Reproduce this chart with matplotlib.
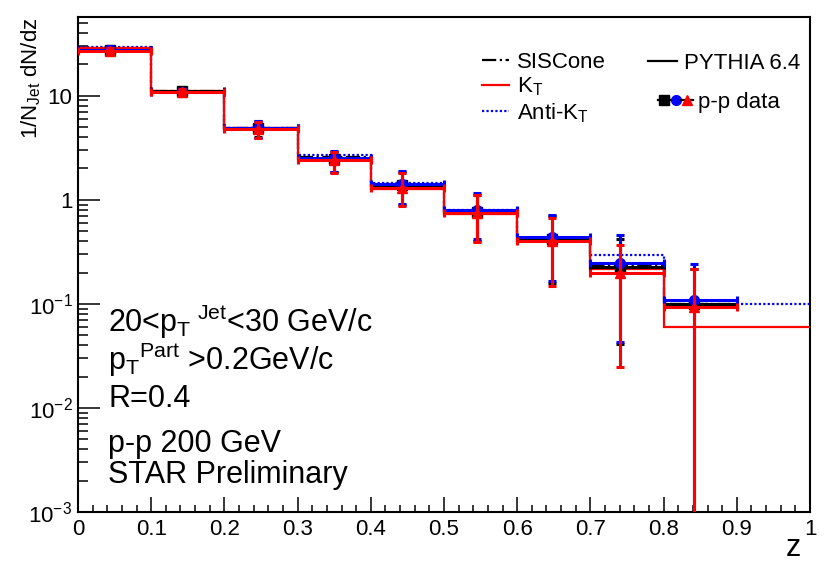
import numpy as np
import matplotlib
matplotlib.use('Agg')
import matplotlib.pyplot as plt
from matplotlib.lines import Line2D
from matplotlib.legend_handler import HandlerTuple
from matplotlib.ticker import FixedLocator, MultipleLocator, LogLocator, NullFormatter

plt.rcParams['font.family'] = ['Liberation Sans', 'DejaVu Sans']
plt.rcParams['mathtext.fontset'] = 'custom'
plt.rcParams['mathtext.rm'] = 'Liberation Sans'
plt.rcParams['mathtext.it'] = 'Liberation Sans:italic'
plt.rcParams['mathtext.bf'] = 'Liberation Sans:bold'
plt.rcParams['mathtext.default'] = 'regular'

# ---------------- data ----------------
bin_edges = [0.0, 0.1, 0.2, 0.3, 0.4, 0.5, 0.6, 0.7, 0.8, 0.9, 1.0]
z_points = [0.044, 0.142, 0.246, 0.350, 0.443, 0.545, 0.647, 0.741, 0.842]

# p-p data (SISCone: black squares)
sis_data = [27.5, 11.0, 4.85, 2.45, 1.38, 0.77, 0.42, 0.225, 0.100]
sis_hi = [29.5, 11.8, 5.65, 2.90, 1.85, 1.12, 0.70, 0.42, 0.217]
sis_lo = [25.5, 10.2, 4.00, 1.85, 0.90, 0.40, 0.16, 0.041, 1e-5]
# p-p data (Anti-kT: blue circles)
akt_data = [27.5, 10.8, 4.85, 2.50, 1.43, 0.80, 0.44, 0.245, 0.109]
akt_hi = [29.7, 11.7, 5.70, 2.95, 1.89, 1.15, 0.71, 0.455, 0.244]
akt_lo = [25.3, 9.9, 3.95, 1.85, 0.92, 0.42, 0.165, 0.043, 1e-5]
# p-p data (kT: red triangles)
kt_data = [27.0, 10.9, 4.75, 2.40, 1.30, 0.74, 0.40, 0.199, 0.094]
kt_hi = [29.0, 11.6, 5.60, 2.90, 1.82, 1.10, 0.67, 0.37, 0.217]
kt_lo = [25.0, 10.0, 3.90, 1.81, 0.865, 0.39, 0.15, 0.0245, 1e-5]

# PYTHIA 6.4 histograms
akt_pythia = [29.6, 10.8, 4.90, 2.69, 1.45, 0.80, 0.42, 0.296, 0.0986, 0.0986]
kt_pythia = [28.5, 11.2, 4.85, 2.44, 1.28, 0.736, 0.40, 0.217, 0.0596, 0.0596]
sis_pythia = [28.5, 11.0, 4.85, 2.55, 1.36, 0.78, 0.43, 0.23, 0.100]

x_ticks = [0.0, 0.1, 0.2, 0.3, 0.4, 0.5, 0.6, 0.7, 0.8, 0.9, 1.0]
x_tick_labels = ['0', '0.1', '0.2', '0.3', '0.4', '0.5', '0.6', '0.7', '0.8', '0.9', '1']
y_ticks = [1e-3, 1e-2, 1e-1, 1, 10]
y_tick_labels = [r'$10^{-3}$', r'$10^{-2}$', r'$10^{-1}$', '1', '10']

# ---------------- figure ----------------
fig = plt.figure(figsize=(8.31, 5.64), dpi=100)
ax = fig.add_axes([0.09386, 0.0922, 0.88087, 0.87766])
ax.set_yscale('log')
ax.set_xlim(0, 1)
ax.set_ylim(1e-3, 57)

edges = np.array(bin_edges)

# PYTHIA histograms
ax.stairs(akt_pythia, edges, baseline=None, color='blue', ls=(0, (1, 1)), lw=1.6, zorder=2)
ax.stairs(sis_pythia, edges[:len(sis_pythia) + 1], baseline=None, color='black',
          ls='-.', lw=1.6, zorder=2)
ax.stairs(kt_pythia, edges, baseline=None, color='red', lw=1.6, zorder=3)


def draw_data(vals, lo, hi, color, marker, ms, z):
    x = np.array(z_points)
    y = np.array(vals)
    n = len(x)
    xerr = [x - edges[:n], edges[1:n + 1] - x]
    yerr = [y - np.array(lo), np.array(hi) - y]
    ax.errorbar(x, y, xerr=xerr, yerr=yerr, fmt=marker, color=color, mec=color, mfc=color,
                ms=ms, elinewidth=2.2, capsize=2.8, capthick=2.2, zorder=z)


draw_data(sis_data, sis_lo, sis_hi, 'black', 's', 6.5, 4)
draw_data(akt_data, akt_lo, akt_hi, 'blue', 'o', 7, 5)
draw_data(kt_data, kt_lo, kt_hi, 'red', '^', 7.5, 6)

# ---------------- axes styling ----------------
for s in ax.spines.values():
    s.set_linewidth(1.5)
ax.xaxis.set_major_locator(FixedLocator(x_ticks))
ax.set_xticklabels(x_tick_labels)
ax.xaxis.set_minor_locator(MultipleLocator(0.02))
ax.yaxis.set_major_locator(FixedLocator(y_ticks))
ax.set_yticklabels(y_tick_labels)
ax.yaxis.set_minor_locator(LogLocator(base=10, subs=np.arange(2, 10)))
ax.yaxis.set_minor_formatter(NullFormatter())
ax.tick_params(axis='both', which='both', direction='in', top=False, right=False,
               labelsize=16, width=1.1)
ax.tick_params(axis='x', which='major', length=10.8, pad=5)
ax.tick_params(axis='x', which='minor', length=5.4)
ax.tick_params(axis='y', which='major', length=15.8, pad=4)
ax.tick_params(axis='y', which='minor', length=7.5)

ax.set_ylabel(r'1/N$_{Jet}$ dN/dz', fontsize=16, ha='center', va='center')
ax.yaxis.set_label_coords(-0.064, 0.877)
ax.set_xlabel('z', fontsize=22, ha='center', va='center')
ax.xaxis.set_label_coords(0.977, -0.073)

# ---------------- text block ----------------
tx = 0.041
ax.text(tx, 0.3642, r'20<p$_{T}{}^{\ Jet}$<30 GeV/c', transform=ax.transAxes, fontsize=22, va='baseline')
ax.text(tx, 0.2869, r'p$_{T}{}^{Part}$ >0.2GeV/c', transform=ax.transAxes, fontsize=22, va='baseline')
ax.text(tx, 0.2127, 'R=0.4', transform=ax.transAxes, fontsize=22, va='baseline')
ax.text(tx, 0.1218, 'p-p 200 GeV', transform=ax.transAxes, fontsize=22, va='baseline')
ax.text(tx, 0.058, 'STAR Preliminary', transform=ax.transAxes, fontsize=22, va='baseline')

# ---------------- legends ----------------
h_sis = Line2D([], [], color='black', ls='-.', lw=1.6)
h_kt = Line2D([], [], color='red', lw=1.6)
h_akt = Line2D([], [], color='blue', ls=(0, (1, 1)), lw=1.6)
leg1 = ax.legend([h_sis, h_kt, h_akt], ['SISCone', r'K$_T$', r'Anti-K$_T$'],
                 loc='upper left', bbox_to_anchor=(0.552, 0.929), frameon=False,
                 fontsize=16, handlelength=1.2, handletextpad=0.35, labelspacing=0.12,
                 borderpad=0, borderaxespad=0)
ax.add_artist(leg1)

h_py = Line2D([], [], color='black', lw=1.6)
leg2 = ax.legend([h_py], ['PYTHIA 6.4'], loc='upper left', bbox_to_anchor=(0.779, 0.927),
                 frameon=False, fontsize=16, handlelength=1.3, handletextpad=0.3,
                 borderpad=0, borderaxespad=0)
ax.add_artist(leg2)

h_sq = Line2D([], [], color='black', marker='s', ms=6.5, lw=1.6)
h_ci = Line2D([], [], color='black', marker='o', ms=7, mfc='blue', mec='blue', lw=1.6)
h_tr = Line2D([], [], color='black', marker='^', ms=7.5, mfc='red', mec='red', lw=1.6)
leg3 = ax.legend([(h_sq, h_ci, h_tr)], ['p-p data'], loc='upper left',
                 bbox_to_anchor=(0.792, 0.849), frameon=False, fontsize=16,
                 handlelength=1.6, handletextpad=0.2, borderpad=0, borderaxespad=0,
                 handler_map={tuple: HandlerTuple(ndivide=None, pad=0)})

fig.savefig('out.png', dpi=100)
